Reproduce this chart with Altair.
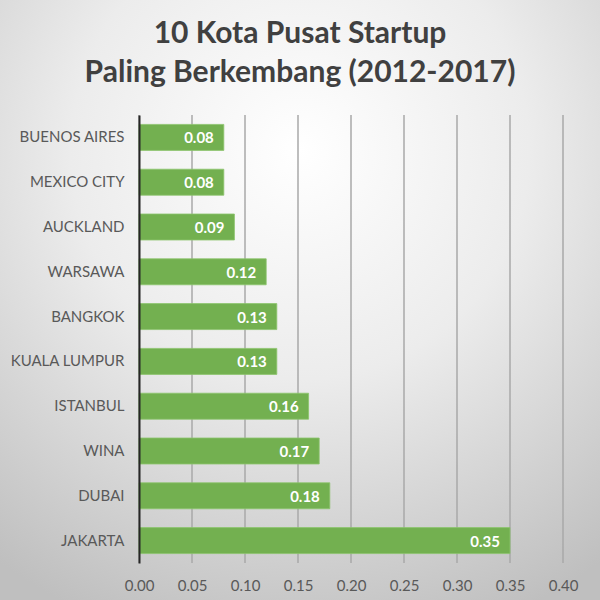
import altair as alt
import pandas as pd

cities = ["BUENOS AIRES", "MEXICO CITY", "AUCKLAND", "WARSAWA", "BANGKOK",
          "KUALA LUMPUR", "ISTANBUL", "WINA", "DUBAI", "JAKARTA"]
values = [0.08, 0.08, 0.09, 0.12, 0.13, 0.13, 0.16, 0.17, 0.18, 0.35]
x_ticks = [0.0, 0.05, 0.10, 0.15, 0.20, 0.25, 0.30, 0.35, 0.40]
title_lines = ["10 Kota Pusat Startup", "Paling Berkembang (2012-2017)"]

df = pd.DataFrame({"city": cities, "value": values})
df["label"] = df["value"].map(lambda v: f"{v:.2f}")
ticks_df = pd.DataFrame({"t": x_ticks})

W, H = 424, 448
PL, PT = 139, 115
FONT = "Lato"

bg_grad = alt.RadialGradient(
    gradient="radial",
    x1=0.5, y1=0.25, r1=0.0,
    x2=0.5, y2=0.25, r2=0.85,
    stops=[alt.GradientStop(offset=0, color="#ffffff"),
           alt.GradientStop(offset=0.45, color="#ececec"),
           alt.GradientStop(offset=1, color="#bfbfbf")],
)

bg = alt.Chart(alt.Data(values=[{"a": 1}])).mark_rect(fill=bg_grad).encode(
    x=alt.value(-PL), x2=alt.value(600 - PL),
    y=alt.value(-PT), y2=alt.value(600 - PT),
)

xscale = alt.Scale(domain=[0, 0.4], nice=False)

grid = alt.Chart(ticks_df).mark_rule(color="#a8a8a8", strokeWidth=1.5).encode(
    x=alt.X("t:Q", scale=xscale,
            axis=alt.Axis(values=x_ticks, format=".2f", labelFont=FONT, title=None,
                          labelFontSize=15, labelColor="#595959", labelPadding=15,
                          labelFlush=False, ticks=False, domain=False, grid=False,
                          zindex=1)),
    y=alt.value(0), y2=alt.value(H),
)

y_enc = alt.Y("city:N", sort=cities, title=None,
              scale=alt.Scale(paddingInner=0.42, paddingOuter=0.21),
              axis=alt.Axis(labelFont=FONT, labelFontSize=15, labelColor="#595959",
                            labelPadding=15, ticks=False, domain=True,
                            domainColor="#262626", domainWidth=2, grid=False, zindex=1))

bars = alt.Chart(df).mark_bar(color="#73b050", stroke="#8cc46c", strokeWidth=0.8).encode(
    x=alt.X("value:Q", scale=xscale), y=y_enc)

labels = alt.Chart(df).mark_text(align="right", baseline="middle", dx=-10, dy=1,
                                 color="white", font=FONT, fontWeight="bold",
                                 fontSize=15).encode(
    x="value:Q", y=alt.Y("city:N", sort=cities), text="label:N")

def title_text(line, ypos):
    return alt.Chart(alt.Data(values=[{"t": line}])).mark_text(
        align="center", baseline="alphabetic", font=FONT, fontSize=30,
        fontWeight="bold", color="#404040").encode(
        x=alt.value(300 - PL), y=alt.value(ypos), text="t:N")

t1 = title_text(title_lines[0], 43 - PT)
t2 = title_text(title_lines[1], 82 - PT)

chart = alt.layer(bg, grid, bars, labels, t1, t2).properties(
    width=W, height=H,
    autosize=alt.AutoSizeParams(type="none"),
    padding={"left": PL, "top": PT, "right": 600 - PL - W, "bottom": 600 - PT - H},
).configure_view(stroke=None).configure(background="#d0d0d0")

chart.save("out.html", embed_options={"renderer": "svg", "actions": False})
